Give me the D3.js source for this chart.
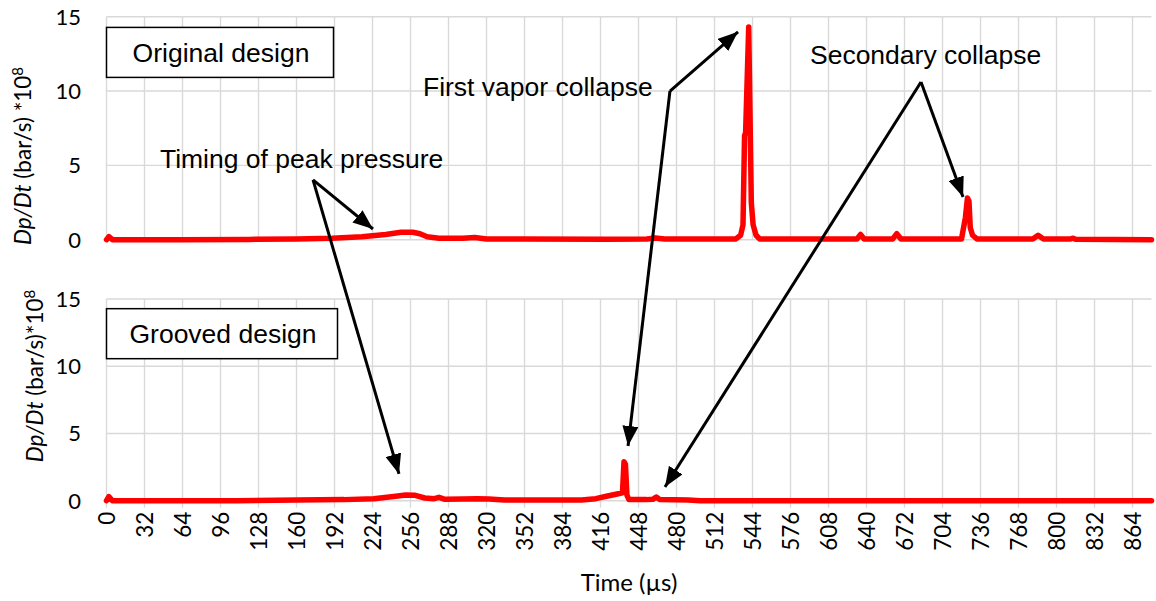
<!DOCTYPE html>
<html>
<head>
<meta charset="utf-8">
<script src="https://cdn.jsdelivr.net/npm/d3@7/dist/d3.min.js"></script>
<style>
  html, body { margin: 0; padding: 0; background: #fff; }
  svg { display: block; }
  .tick-label { font-family: Lato, "Open Sans", sans-serif; fill: #000; }
  .note { font-family: "Liberation Sans", Arial, sans-serif; fill: #000; }
</style>
</head>
<body>
<svg id="chart" width="1156" height="601"></svg>
<script>
// Time axis (µs) and the two Dp/Dt traces, values in units of 1e8 bar/s
const timeTicks = [0, 32, 64, 96, 128, 160, 192, 224, 256, 288, 320, 352, 384, 416,
                   448, 480, 512, 544, 576, 608, 640, 672, 704, 736, 768, 800, 832, 864];
const valueTicks = [0, 5, 10, 15];

const originalTime = [0, 2, 5, 60, 120, 160, 190, 215, 235, 248, 258, 264, 270, 280, 300, 310, 320,
  350, 420, 455, 462, 470, 530, 534, 536, 537.3, 538.2, 540.8, 543, 544.5, 547, 550, 600,
  632, 635, 638, 662, 665.5, 669, 720, 723.3, 725, 726.3, 727.4, 729.3, 733, 780, 784.5, 789,
  812, 814, 816, 880];
const originalValue = [0.0, 0.2, 0.0, 0.0, 0.02, 0.05, 0.1, 0.2, 0.35, 0.5, 0.5, 0.4, 0.2, 0.1, 0.1, 0.15, 0.05,
  0.05, 0.03, 0.05, 0.12, 0.05, 0.05, 0.3, 1.0, 7.0, 7.2, 14.3, 2.5, 1.0, 0.3, 0.05, 0.05,
  0.05, 0.35, 0.05, 0.05, 0.4, 0.05, 0.05, 1.5, 2.8, 2.6, 0.8, 0.3, 0.05, 0.05, 0.3, 0.05,
  0.05, 0.1, 0.03, 0.0];

const groovedTime = [0, 2, 5, 110, 160, 200, 225, 240, 252, 260, 268, 276, 280, 285, 300, 312, 322, 335,
  400, 412, 422, 430, 434.5, 435.8, 437, 438.3, 440, 455, 460, 463, 466, 490, 500, 880];
const groovedValue = [0.0, 0.3, 0.0, 0.0, 0.05, 0.08, 0.15, 0.3, 0.42, 0.4, 0.2, 0.15, 0.25, 0.1, 0.12, 0.15, 0.12, 0.05,
  0.05, 0.15, 0.35, 0.5, 0.58, 2.9, 2.7, 0.4, 0.08, 0.08, 0.1, 0.28, 0.08, 0.05, 0.0, 0.0];

const panels = [
  { name: "Original design", time: originalTime, value: originalValue, top: 16.7, bottom: 239.7,
    title: ["Dp/Dt", " (bar/s) *10", "8"], titleX: 23, titleY: 156, boxW: 227, showTicks: false },
  { name: "Grooved design", time: groovedTime, value: groovedValue, top: 299, bottom: 500.7,
    title: ["Dp/Dt", " (bar/s)*10", "8"], titleX: 35, titleY: 376, boxW: 231, showTicks: true }
];

const svg = d3.select("#chart");
const x = d3.scaleLinear().domain([0, 880]).range([106.5, 1151.5]);

panels.forEach(p => {
  p.y = d3.scaleLinear().domain([0, 15]).range([p.bottom, p.top]);
  const g = svg.append("g");

  // horizontal grid lines
  g.selectAll("line.h").data(valueTicks).join("line")
    .attr("x1", x(0)).attr("x2", x(880))
    .attr("y1", d => p.y(d)).attr("y2", d => p.y(d))
    .attr("stroke", "#d9d9d9").attr("stroke-width", 1.4);

  // vertical grid lines (with short tick marks below the lower panel)
  g.selectAll("line.v").data(timeTicks).join("line")
    .attr("x1", d => x(d)).attr("x2", d => x(d))
    .attr("y1", p.y(15)).attr("y2", p.y(0) + (p.showTicks ? 7 : 0))
    .attr("stroke", "#d9d9d9").attr("stroke-width", 1.4);

  // value tick labels
  g.selectAll("text.yl").data(valueTicks).join("text")
    .attr("class", "tick-label")
    .attr("x", 81).attr("y", d => p.y(d))
    .attr("dy", "0.36em")
    .attr("text-anchor", "end")
    .style("font-size", "22px")
    .text(d => d);

  // axis title, rotated
  const t = g.append("text")
    .attr("class", "tick-label")
    .attr("transform", `translate(${p.titleX},${p.titleY}) rotate(-90)`)
    .attr("text-anchor", "middle")
    .attr("dy", "0.35em")
    .style("font-size", "22.5px");
  t.append("tspan").style("font-style", "italic").text(p.title[0]);
  t.append("tspan").text(p.title[1]);
  t.append("tspan").attr("dy", "-0.5em").style("font-size", "15px").text(p.title[2]);

  // data trace
  const line = d3.line().x((d, i) => x(p.time[i])).y(d => p.y(d));
  g.append("path")
    .datum(p.value)
    .attr("d", line)
    .attr("fill", "none")
    .attr("stroke", "#ff0000")
    .attr("stroke-width", 5.5)
    .attr("stroke-linejoin", "round")
    .attr("stroke-linecap", "round");
});

// time tick labels under the lower panel
const lower = panels[1];
svg.append("g").selectAll("text").data(timeTicks).join("text")
  .attr("class", "tick-label")
  .attr("transform", d => `translate(${x(d)},${lower.y(0) + 11}) rotate(-90)`)
  .attr("text-anchor", "end")
  .attr("dy", "0.36em")
  .style("font-size", "22.5px")
  .text(d => d);

svg.append("text")
  .attr("class", "tick-label")
  .attr("x", 629).attr("y", 591)
  .attr("text-anchor", "middle")
  .style("font-size", "24px")
  .text("Time (µs)");

// design label boxes
panels.forEach(p => {
  const bx = 106.5, by = p.y(14.28), bh = 50;
  svg.append("rect")
    .attr("x", bx).attr("y", by).attr("width", p.boxW).attr("height", bh)
    .attr("fill", "#fff").attr("stroke", "#000").attr("stroke-width", 1.5);
  svg.append("text")
    .attr("class", "note")
    .attr("x", bx + p.boxW / 2 + 1).attr("y", by + bh / 2 + 9.5)
    .attr("text-anchor", "middle")
    .style("font-size", "26.5px")
    .text(p.name);
});

// arrow head
svg.append("defs").append("marker")
  .attr("id", "head")
  .attr("markerUnits", "userSpaceOnUse")
  .attr("viewBox", "0 0 20 16")
  .attr("refX", 20).attr("refY", 8)
  .attr("markerWidth", 20).attr("markerHeight", 16)
  .attr("orient", "auto")
  .append("path").attr("d", "M0,0 L20,8 L0,16 Z").attr("fill", "#000");

const yUpper = panels[0].y, yLower = panels[1].y;
const notes = [
  { text: "Timing of peak pressure", tx: 45, ty: 4.83, from: [173.9, 4.02],
    to: [[224.4, 0.72, yUpper], [246.3, 1.99, yLower]] },
  { text: "First vapor collapse", tx: 266.5, ty: 9.65, from: [474.5, 10.0],
    to: [[531.8, 13.98, yUpper], [439.2, 4.07, yLower]] },
  { text: "Secondary collapse", tx: 592.4, ty: 11.8, from: [685.9, 10.61],
    to: [[721.3, 2.87, yUpper], [470.3, 1.02, yLower]] }
];

notes.forEach(n => {
  svg.append("text")
    .attr("class", "note")
    .attr("x", x(n.tx)).attr("y", yUpper(n.ty))
    .style("font-size", "26.5px")
    .text(n.text);
  n.to.forEach(([tt, vv, ys]) => {
    svg.append("line")
      .attr("x1", x(n.from[0])).attr("y1", yUpper(n.from[1]))
      .attr("x2", x(tt)).attr("y2", ys(vv))
      .attr("stroke", "#000").attr("stroke-width", 3)
      .attr("marker-end", "url(#head)");
  });
});
</script>
</body>
</html>
